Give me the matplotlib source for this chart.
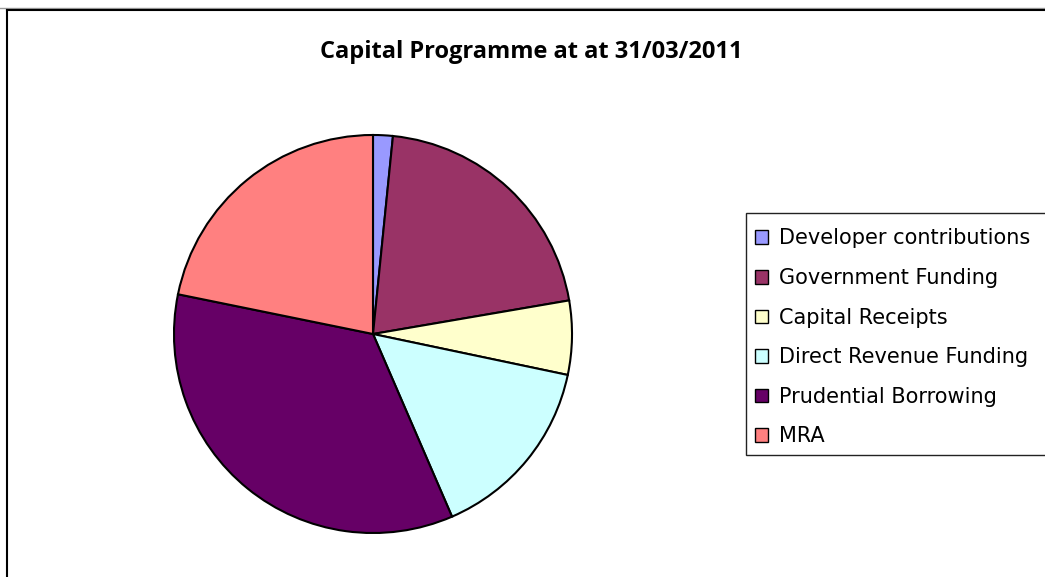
import matplotlib
matplotlib.use("Agg")
import matplotlib.pyplot as plt
from matplotlib.lines import Line2D
from matplotlib.patches import Patch, Rectangle

labels = ["Developer contributions", "Government Funding", "Capital Receipts",
          "Direct Revenue Funding", "Prudential Borrowing", "MRA"]
values = [1.6, 20.7, 6.0, 15.2, 34.7, 21.8]
colors = ["#9999FF", "#993366", "#FFFFCC", "#CCFFFF", "#660066", "#FF8080"]
title = "Capital Programme at at 31/03/2011"

W, H = 1045, 577
fig = plt.figure(figsize=(W / 100, H / 100), dpi=100)
fig.patch.set_facecolor("white")

# chart frame
fig.add_artist(Line2D([0, 1], [1 - 7.5 / H, 1 - 7.5 / H], color="#999999", lw=1.0,
                      transform=fig.transFigure))
fig.add_artist(Line2D([6.5 / W, 6.5 / W], [0, 1 - 9.5 / H], color="black", lw=1.5,
                      transform=fig.transFigure))
fig.add_artist(Line2D([6.5 / W, 1], [1 - 9.5 / H, 1 - 9.5 / H], color="black", lw=1.5,
                      transform=fig.transFigure))

cx, cy, r = 373, 334, 200
ax = fig.add_axes([(cx - r) / W, (H - cy - r) / H, 2 * r / W, 2 * r / H])
ax.pie(values, colors=colors, startangle=90, counterclock=False, radius=1,
       wedgeprops=dict(edgecolor="black", linewidth=1.5))
ax.set_xlim(-1.005, 1.005)
ax.set_ylim(-1.005, 1.005)
ax.set_aspect("equal")
ax.axis("off")

fig.text(531 / W, 1 - 58 / H, title, ha="center", va="baseline",
         fontsize=17, fontweight="bold", family="Open Sans")

# legend box (extends past the right edge, as in the reference)
fig.add_artist(Rectangle((745.5 / W, 1 - 454.5 / H), 320 / W, 241 / H,
                         transform=fig.transFigure, facecolor="white",
                         edgecolor="#222222", linewidth=1.0, zorder=1))

handles = [Patch(facecolor=c, edgecolor="black", linewidth=1.0) for c in colors]
leg = fig.legend(handles, labels, loc="upper left",
                 bbox_to_anchor=(745 / W, 1 - 218.5 / H), borderaxespad=0,
                 frameon=False,
                 prop=dict(family="DejaVu Sans", size=15),
                 handlelength=0.625, handleheight=0.625, handletextpad=0.53,
                 labelspacing=0.94, borderpad=0.48)
leg.set_zorder(2)

fig.savefig("out.png", dpi=100, facecolor="white")
